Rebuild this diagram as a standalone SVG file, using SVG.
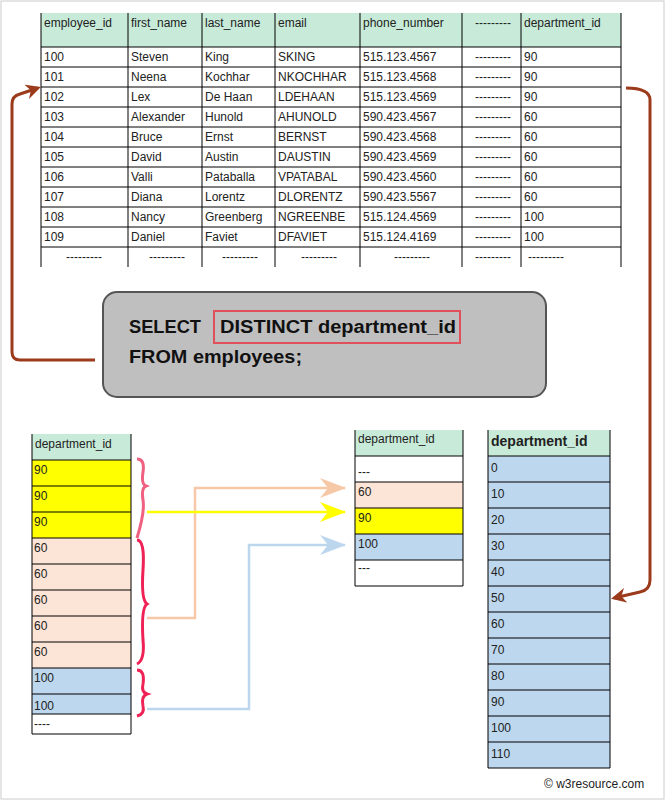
<svg xmlns="http://www.w3.org/2000/svg" width="665" height="800" viewBox="0 0 665 800">
<style>
text{font-family:"Liberation Sans",Arial,sans-serif;font-size:12px;fill:#222}
.g{fill:#c8ebd9}.c{stroke:#000;stroke-width:1;fill:none}
.q{font-size:18px;font-weight:bold;fill:#111}
.b{fill:none;stroke-width:3}
</style>
<defs>
<marker id="ab" viewBox="0 0 10 10" refX="8" refY="5" markerWidth="5" markerHeight="5" orient="auto"><path d="M0,0 L10,5 L0,10 L3,5z" fill="#9c3a1c"/></marker>
</defs>
<rect x="1" y="1" width="663" height="798" fill="#fff" stroke="#ccc"/>
<g id="employees">
<rect x="41" y="13" width="580" height="34" class="g"/>
<g class="c">
<path d="M41,13V267M128,13V267M202,13V267M275,13V267M360,13V267M462,13V267M521,13V267M621,13V267"/>
<path d="M41,47H621M41,67H621M41,87H621M41,107H621M41,127H621M41,147H621M41,167H621M41,187H621M41,207H621M41,227H621M41,247H621"/>
</g>
<g>
<text x="44" y="27">employee_id</text><text x="131" y="27">first_name</text><text x="205" y="27">last_name</text><text x="278" y="27">email</text><text x="363" y="27">phone_number</text><text x="475" y="27">---------</text><text x="524" y="27">department_id</text>
<text x="44" y="61">100</text><text x="131" y="61">Steven</text><text x="205" y="61">King</text><text x="278" y="61">SKING</text><text x="363" y="61">515.123.4567</text><text x="475" y="61">---------</text><text x="524" y="61">90</text>
<text x="44" y="81">101</text><text x="131" y="81">Neena</text><text x="205" y="81">Kochhar</text><text x="278" y="81">NKOCHHAR</text><text x="363" y="81">515.123.4568</text><text x="475" y="81">---------</text><text x="524" y="81">90</text>
<text x="44" y="101">102</text><text x="131" y="101">Lex</text><text x="205" y="101">De Haan</text><text x="278" y="101">LDEHAAN</text><text x="363" y="101">515.123.4569</text><text x="475" y="101">---------</text><text x="524" y="101">90</text>
<text x="44" y="121">103</text><text x="131" y="121">Alexander</text><text x="205" y="121">Hunold</text><text x="278" y="121">AHUNOLD</text><text x="363" y="121">590.423.4567</text><text x="475" y="121">---------</text><text x="524" y="121">60</text>
<text x="44" y="141">104</text><text x="131" y="141">Bruce</text><text x="205" y="141">Ernst</text><text x="278" y="141">BERNST</text><text x="363" y="141">590.423.4568</text><text x="475" y="141">---------</text><text x="524" y="141">60</text>
<text x="44" y="161">105</text><text x="131" y="161">David</text><text x="205" y="161">Austin</text><text x="278" y="161">DAUSTIN</text><text x="363" y="161">590.423.4569</text><text x="475" y="161">---------</text><text x="524" y="161">60</text>
<text x="44" y="181">106</text><text x="131" y="181">Valli</text><text x="205" y="181">Pataballa</text><text x="278" y="181">VPATABAL</text><text x="363" y="181">590.423.4560</text><text x="475" y="181">---------</text><text x="524" y="181">60</text>
<text x="44" y="201">107</text><text x="131" y="201">Diana</text><text x="205" y="201">Lorentz</text><text x="278" y="201">DLORENTZ</text><text x="363" y="201">590.423.5567</text><text x="475" y="201">---------</text><text x="524" y="201">60</text>
<text x="44" y="221">108</text><text x="131" y="221">Nancy</text><text x="205" y="221">Greenberg</text><text x="278" y="221">NGREENBE</text><text x="363" y="221">515.124.4569</text><text x="475" y="221">---------</text><text x="524" y="221">100</text>
<text x="44" y="241">109</text><text x="131" y="241">Daniel</text><text x="205" y="241">Faviet</text><text x="278" y="241">DFAVIET</text><text x="363" y="241">515.124.4169</text><text x="475" y="241">---------</text><text x="524" y="241">100</text>
<text x="66" y="261">---------</text><text x="149" y="261">---------</text><text x="222" y="261">---------</text><text x="301" y="261">---------</text><text x="394" y="261">---------</text><text x="475" y="261">---------</text><text x="528" y="261">---------</text>
</g>
</g>
<g id="query">
<rect x="103" y="292" width="443" height="105" rx="14" fill="#c0bfc0" stroke="#555" stroke-width="2"/>
<rect x="214" y="311" width="246" height="32" fill="none" stroke="#e0505a" stroke-width="2"/>
<text x="129" y="333" class="q" textLength="72" lengthAdjust="spacingAndGlyphs">SELECT</text><text x="220" y="333" class="q" textLength="236" lengthAdjust="spacingAndGlyphs">DISTINCT department_id</text>
<text x="129" y="363" class="q" textLength="173" lengthAdjust="spacingAndGlyphs">FROM employees;</text>
</g>
<g id="connectors">
<path d="M95,360H20Q12,360 12,352V104Q12,96 20,94L38,88" fill="none" stroke="#9c3a1c" stroke-width="3" marker-end="url(#ab)"/>
<path d="M626,88Q650,88 650,100V580Q650,590 640,592L614,598" fill="none" stroke="#9c3a1c" stroke-width="3" marker-end="url(#ab)"/>
<path d="M147,618H195V488H345" fill="none" stroke="#f6c8a8" stroke-width="2.5"/>
<path d="M320,478L346,488L320,498L328,488z" fill="#f6c8a8"/>
<path d="M147,512H345" fill="none" stroke="#ffff00" stroke-width="2.5"/>
<path d="M320,502L346,512L320,522L328,512z" fill="#ffff00"/>
<path d="M147,709H249V545H345" fill="none" stroke="#bcd6ee" stroke-width="2.5"/>
<path d="M320,535L346,545L320,555L328,545z" fill="#bcd6ee"/>
<path d="M137,459Q145,459 143,472Q141,484 146,486Q141,488 143,500Q145,512 137,538" class="b" stroke="#f06080"/>
<path d="M137,540Q145,540 143,570Q141,600 147,604Q141,608 143,640Q145,660 137,664" class="b" stroke="#ee2255"/>
<path d="M137,670Q145,670 143,684Q141,692 147,694Q141,696 143,706Q145,714 137,716" class="b" stroke="#ee2255"/>
</g>
<g id="source">
<rect x="32" y="434" width="99" height="26" class="g"/>
<rect x="32" y="460" width="99" height="78" fill="#ffff00"/>
<rect x="32" y="538" width="99" height="130" fill="#fce4d6"/>
<rect x="32" y="668" width="99" height="46" fill="#bdd7ee"/>
<path class="c" d="M32,434V734M131,434V734M32,460H131M32,486H131M32,512H131M32,538H131M32,564H131M32,590H131M32,616H131M32,642H131M32,668H131M32,694H131M32,714H131M32,734H131"/>
<text x="35" y="448">department_id</text>
<text x="34" y="474">90</text><text x="34" y="500">90</text><text x="34" y="526">90</text>
<text x="34" y="552">60</text><text x="34" y="578">60</text><text x="34" y="604">60</text><text x="34" y="630">60</text><text x="34" y="656">60</text>
<text x="34" y="682">100</text><text x="34" y="710">100</text><text x="34" y="728">----</text>
</g>
<g id="result">
<rect x="355" y="430" width="108" height="26" class="g"/>
<rect x="355" y="482" width="108" height="26" fill="#fce4d6"/>
<rect x="355" y="508" width="108" height="26" fill="#ffff00"/>
<rect x="355" y="534" width="108" height="26" fill="#bdd7ee"/>
<path class="c" d="M355,430V586M463,430V586M355,456H463M355,482H463M355,508H463M355,534H463M355,560H463M355,586H463"/>
<text x="358" y="443">department_id</text>
<text x="358" y="476">---</text><text x="358" y="496">60</text><text x="358" y="522">90</text><text x="358" y="548">100</text><text x="358" y="572">---</text>
</g>
<g id="departments">
<rect x="488" y="430" width="122" height="26" class="g"/>
<rect x="488" y="456" width="122" height="312" fill="#bdd7ee"/>
<path class="c" d="M488,430V768M610,430V768M488,456H610M488,482H610M488,508H610M488,534H610M488,560H610M488,586H610M488,612H610M488,638H610M488,664H610M488,690H610M488,716H610M488,742H610M488,768H610"/>
<text x="491" y="446" style="font-size:14px;font-weight:bold">department_id</text>
<g style="font-size:13px">
<text x="491" y="472">0</text><text x="491" y="498">10</text><text x="491" y="524">20</text><text x="491" y="550">30</text><text x="491" y="576">40</text><text x="491" y="602">50</text><text x="491" y="628">60</text><text x="491" y="654">70</text><text x="491" y="680">80</text><text x="491" y="706">90</text><text x="491" y="732">100</text><text x="491" y="758">110</text>
</g>
</g>
<text x="544" y="788" style="font-size:12px">© w3resource.com</text>
</svg>
